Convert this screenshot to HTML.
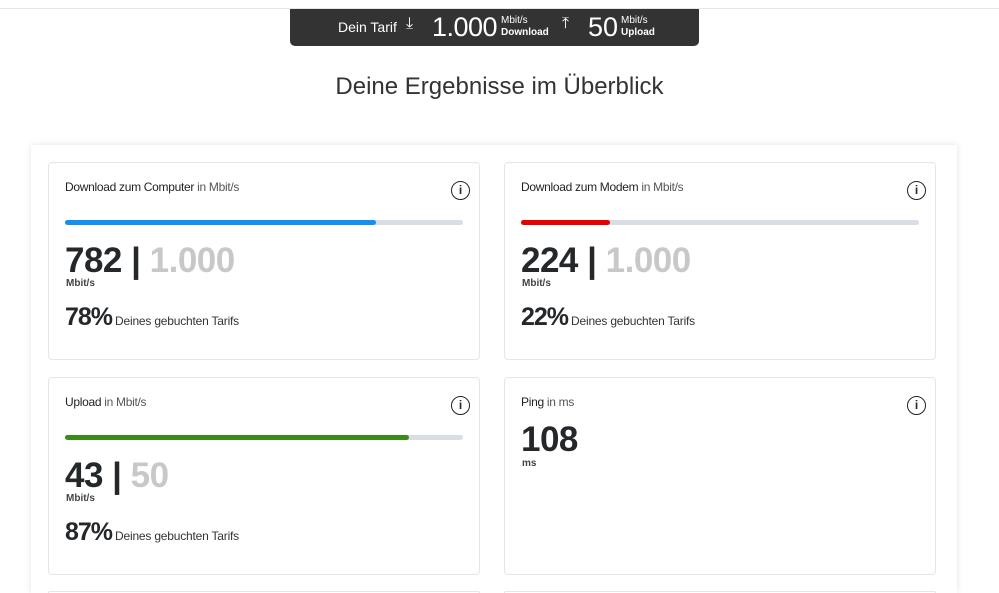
<!DOCTYPE html>
<html style="width:999px;height:593px;overflow:hidden"><head><meta charset="utf-8"><style>
*{margin:0;padding:0;box-sizing:border-box}
body{width:999px;height:593px;overflow:hidden;background:#fff;font-family:"Liberation Sans",sans-serif;color:#25282b;position:relative}
.abs{position:absolute;white-space:nowrap}
.topline{position:absolute;left:0;top:8px;width:999px;height:1px;background:#e6e6e6}
.tarif{position:absolute;left:290px;top:9px;width:409px;height:37px;background:#333;border-radius:0 0 5px 5px;color:#fff}
.outer{position:absolute;left:31px;top:145px;width:926px;height:448px;background:#fff;box-shadow:0 0 6px rgba(0,0,0,.12)}
.card{position:absolute;width:432px;height:198px;border:1px solid #e3e6ea;border-radius:4px;background:#fff}
.t{position:absolute;left:16px;top:17px;font-size:12px;letter-spacing:-0.3px}
.t b{font-weight:normal;color:#222}.t span{color:#555}
.info{position:absolute;left:402px;top:18px;width:19px;height:19px;border:1.6px solid #222;border-radius:50%;font-size:12px;text-align:center;line-height:16px;font-weight:bold}
.bar{position:absolute;left:16px;top:57px;width:398px;height:5px;border-radius:3px;background:#d8dde6}
.bar i{position:absolute;left:0;top:0;height:5px;border-radius:3px}
.big{position:absolute;left:16px;top:78px;font-size:35px;font-weight:bold;letter-spacing:-0.5px;line-height:40px}
.big span{color:#c8c8c8}
.unit{position:absolute;left:17px;top:115px;font-size:10px;font-weight:bold;color:#444}
.pct{position:absolute;left:16px;top:140px;font-size:25px;font-weight:bold;letter-spacing:-1px}
.pct span{font-size:12px;font-weight:normal;letter-spacing:-0.2px;color:#333;margin-left:3px}
</style></head><body>
<div class="topline"></div>
<div class="tarif">
 <div class="abs" style="left:48px;top:10px;font-size:14px">Dein Tarif</div>
 <div class="abs" style="left:116px;top:6px;font-size:16px">⤓</div>
 <div class="abs" style="left:142px;top:3px;font-size:27px;letter-spacing:-0.5px">1.000</div>
 <div class="abs" style="left:211px;top:6px;font-size:10px;line-height:12px">Mbit/s<br><b>Download</b></div>
 <div class="abs" style="left:272px;top:6px;font-size:16px">⤒</div>
 <div class="abs" style="left:298px;top:3px;font-size:27px">50</div>
 <div class="abs" style="left:331px;top:6px;font-size:10px;line-height:12px">Mbit/s<br><b>Upload</b></div>
</div>
<div class="abs" style="left:0;width:999px;text-align:center;top:73px;font-size:24px;color:#333">Deine Ergebnisse im Überblick</div>
<div class="outer"></div>

<div class="card" style="left:48px;top:162px">
 <div class="t"><b>Download zum Computer</b> <span>in Mbit/s</span></div><div class="info">i</div>
 <div class="bar"><i style="width:311px;background:#1390f0"></i></div>
 <div class="big">782 | <span>1.000</span></div><div class="unit">Mbit/s</div>
 <div class="pct">78%<span>Deines gebuchten Tarifs</span></div>
</div>
<div class="card" style="left:504px;top:162px">
 <div class="t"><b>Download zum Modem</b> <span>in Mbit/s</span></div><div class="info">i</div>
 <div class="bar"><i style="width:89px;background:#e60000"></i></div>
 <div class="big">224 | <span>1.000</span></div><div class="unit">Mbit/s</div>
 <div class="pct">22%<span>Deines gebuchten Tarifs</span></div>
</div>
<div class="card" style="left:48px;top:377px">
 <div class="t"><b>Upload</b> <span>in Mbit/s</span></div><div class="info">i</div>
 <div class="bar"><i style="width:344px;background:#3a8c1a"></i></div>
 <div class="big">43 | <span>50</span></div><div class="unit">Mbit/s</div>
 <div class="pct">87%<span>Deines gebuchten Tarifs</span></div>
</div>
<div class="card" style="left:504px;top:377px">
 <div class="t"><b>Ping</b> <span>in ms</span></div><div class="info">i</div>
 <div class="big" style="top:42px">108</div><div class="unit" style="top:80px">ms</div>
</div>
<div class="card" style="left:48px;top:591px;height:2px;border-bottom:none;border-radius:4px 4px 0 0"></div>
<div class="card" style="left:504px;top:591px;height:2px;border-bottom:none;border-radius:4px 4px 0 0"></div>
</body></html>
